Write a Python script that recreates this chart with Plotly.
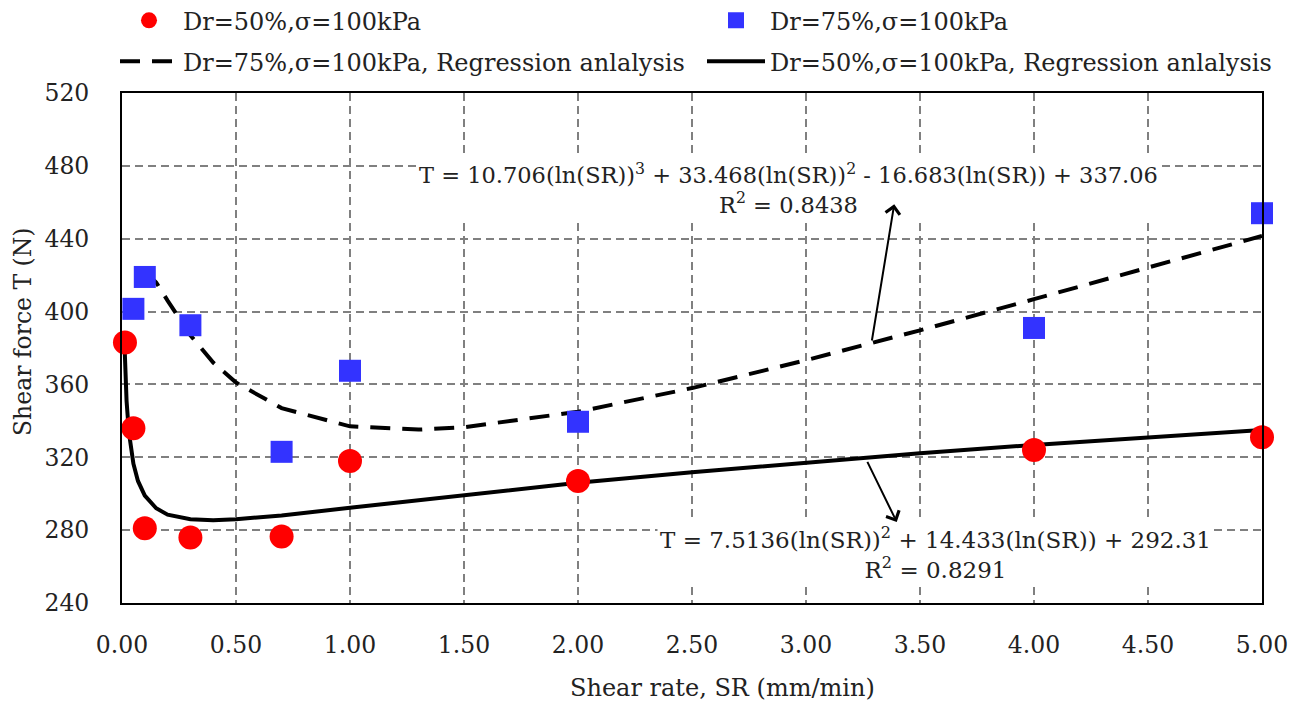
import plotly.graph_objects as go

# ---------------- data ----------------
sr_50 = [0.013, 0.05, 0.1, 0.3, 0.7, 1.0, 2.0, 4.0, 5.0]
t_50 = [383, 336, 281, 276, 276.5, 318, 307, 324, 331]

sr_75 = [0.05, 0.1, 0.3, 0.7, 1.0, 2.0, 4.0, 5.0]
t_75 = [401.5, 419, 392.5, 323, 367.5, 339.5, 391, 454]

# regression curves as traced on the picture
reg50_x = [0.01, 0.02, 0.03, 0.05, 0.07, 0.1, 0.15, 0.2, 0.3, 0.4, 0.5, 0.7,
           1.0, 1.5, 2.0, 2.5, 3.0, 3.5, 4.0, 4.5, 5.0]
reg50_y = [385, 351, 334, 316.5, 307, 299, 292, 288.5, 286, 285.4, 286, 288,
           292.3, 299.4, 306, 311.8, 317.2, 322.2, 326.8, 331, 335]

reg75_x = [0.1, 0.15, 0.2, 0.3, 0.4, 0.5, 0.7, 1.0, 1.3, 1.5, 2.0, 2.5,
           3.0, 3.5, 4.0, 4.5, 5.0]
reg75_y = [422, 416, 406, 387, 372, 361, 347, 337, 335.2, 336.5, 345, 358,
           373.3, 389.7, 406.8, 424, 441.5]

name_50 = "Dr=50%,σ=100kPa"
name_75 = "Dr=75%,σ=100kPa"
name_r75 = "Dr=75%,σ=100kPa, Regression anlalysis"
name_r50 = "Dr=50%,σ=100kPa, Regression anlalysis"

eq75 = "T = 10.706(ln(SR))<sup>3</sup> + 33.468(ln(SR))<sup>2</sup> - 16.683(ln(SR)) + 337.06<br>R<sup>2</sup> = 0.8438"
eq50 = "T = 7.5136(ln(SR))<sup>2</sup> + 14.433(ln(SR)) + 292.31<br>R<sup>2</sup> = 0.8291"

x_ticks = [0, 0.5, 1.0, 1.5, 2.0, 2.5, 3.0, 3.5, 4.0, 4.5, 5.0]
y_ticks = [240, 280, 320, 360, 400, 440, 480, 520]

FONT = "DejaVu Serif"
W, H = 1301, 706
L, R, T, B = 122, 39, 93, 103

fig = go.Figure()
fig.add_trace(go.Scatter(x=reg75_x, y=reg75_y, mode="lines", name=name_r75,
                         line=dict(color="black", width=4, dash="20px,12px"),
                         legend="legend3"))
fig.add_trace(go.Scatter(x=reg50_x, y=reg50_y, mode="lines", name=name_r50,
                         line=dict(color="black", width=4), legend="legend4"))
fig.add_trace(go.Scatter(x=sr_50, y=t_50, mode="markers", name=name_50,
                         marker=dict(color="#ff0000", size=24, symbol="circle"),
                         cliponaxis=False, legend="legend"))
fig.add_trace(go.Scatter(x=sr_75, y=t_75, mode="markers", name=name_75,
                         marker=dict(color="#3333ff", size=22, symbol="square"),
                         cliponaxis=False, legend="legend2"))

axis_common = dict(showline=True, linecolor="black", linewidth=2, mirror=True,
                   showgrid=True, gridcolor="#808080", gridwidth=1.5,
                   griddash="8px,5px", zeroline=False, ticks="",
                   tickfont=dict(family=FONT, size=23.5, color="#222"))

fig.update_xaxes(range=[0, 5], tickvals=x_ticks, tickformat=".2f",
                 ticklabelstandoff=20, **axis_common)
fig.update_yaxes(range=[240, 520], tickvals=y_ticks,
                 ticklabelstandoff=26, **axis_common)

leg_common = dict(orientation="h", xref="container", yref="container",
                  xanchor="left", yanchor="middle", itemwidth=58,
                  bgcolor="rgba(0,0,0,0)",
                  font=dict(family=FONT, size=24, color="#222"),
                  itemclick=False, itemdoubleclick=False)

row1, row2 = 1 - 20.7 / H, 1 - 61.7 / H
col1, col2 = 115 / W, 702 / W

fig.update_layout(
    width=W, height=H,
    margin=dict(l=L, r=R, t=T, b=B, autoexpand=False),
    paper_bgcolor="white", plot_bgcolor="white",
    showlegend=True,
    legend=dict(x=col1, y=row1, **leg_common),
    legend2=dict(x=col2, y=row1, **leg_common),
    legend3=dict(x=col1, y=row2, **leg_common),
    legend4=dict(x=col2, y=row2, **leg_common),
    font=dict(family=FONT, color="#222"),
)

# axis titles
fig.add_annotation(text="Shear rate, SR (mm/min)", xref="paper", yref="paper",
                   x=(722 - L) / (W - L - R), y=(H - B - 688) / (H - T - B),
                   showarrow=False, xanchor="center", yanchor="middle",
                   font=dict(family=FONT, size=24, color="#222"))
fig.add_annotation(text="Shear force T (N)", xref="paper", yref="paper",
                   x=(23 - L) / (W - L - R), y=(H - B - 331) / (H - T - B),
                   textangle=-90, showarrow=False, xanchor="center",
                   yanchor="middle",
                   font=dict(family=FONT, size=23.5, color="#222"))

# equations
fig.add_annotation(text=eq75, x=2.925, y=467.5, xref="x", yref="y",
                   showarrow=False, align="center", bgcolor="white",
                   borderpad=2, font=dict(family=FONT, size=22.5, color="#222"))
fig.add_annotation(text=eq50, x=3.566, y=267.5, xref="x", yref="y",
                   showarrow=False, align="center", bgcolor="white",
                   borderpad=2, font=dict(family=FONT, size=23, color="#222"))

# arrows
fig.add_annotation(text="", x=3.387, y=458.9, ax=3.288, ay=383.3,
                   xref="x", yref="y", axref="x", ayref="y",
                   showarrow=True, arrowhead=4, arrowsize=1.4, arrowwidth=2,
                   arrowcolor="black", standoff=0, startstandoff=0)
fig.add_annotation(text="", x=3.398, y=284.5, ax=3.266, ay=318.3,
                   xref="x", yref="y", axref="x", ayref="y",
                   showarrow=True, arrowhead=4, arrowsize=1.4, arrowwidth=2,
                   arrowcolor="black", standoff=0, startstandoff=0)

fig.write_html("out.html")
